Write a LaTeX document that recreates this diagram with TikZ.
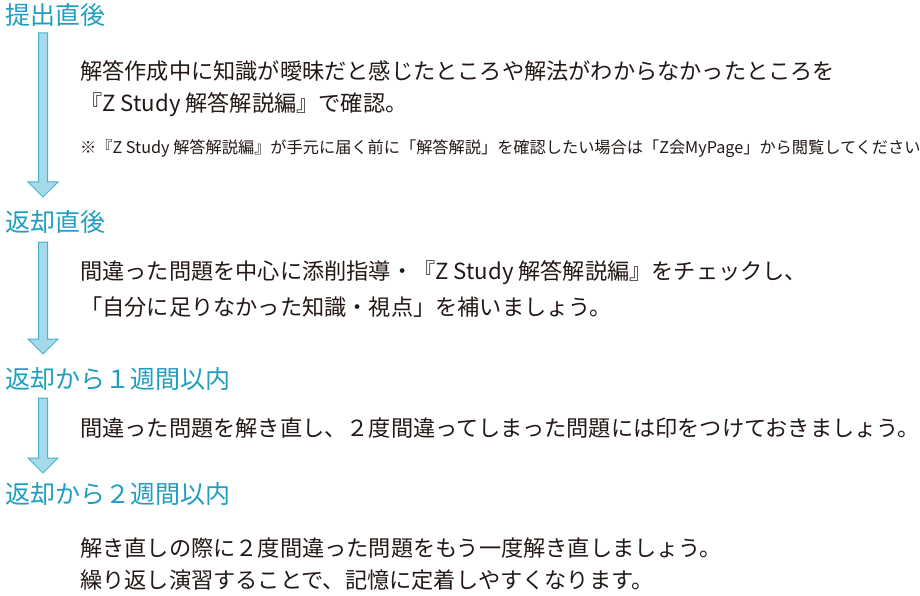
\documentclass[tikz,border=0pt]{standalone}
\usepackage{fontspec}
\newfontfamily\jpfont{Noto Sans CJK JP}
\usetikzlibrary{calc}
\definecolor{headblue}{HTML}{1F9EC1}
\definecolor{arrowfill}{HTML}{A6DAE8}
\definecolor{arrowline}{HTML}{45B3CF}
\definecolor{bodygray}{HTML}{231815}
\tikzset{
  headtext/.style={anchor=base west,inner sep=0pt,text=headblue,font=\jpfont\fontsize{25}{25}\selectfont},
  bodytext/.style={anchor=base west,inner sep=0pt,text=bodygray,font=\jpfont\fontsize{22.2}{23}\selectfont},
  notetext/.style={anchor=base west,inner sep=0pt,text=bodygray,font=\jpfont\fontsize{16.2}{17}\selectfont},
  flowarrow/.style={fill=arrowfill,draw=arrowline,line width=1pt,line join=miter}
}
\newcommand{\downflow}[2]{%
  \draw[flowarrow] let \p1=(#1), \p2=(#2) in
    (\x1-4.5pt,\y1) -- (\x1+4.5pt,\y1) -- (\x1+4.5pt,\y2+15pt) -- (\x1+15pt,\y2+15pt)
    -- (\x2,\y2) -- (\x1-15pt,\y2+15pt) -- (\x1-4.5pt,\y2+15pt) -- cycle;}
\begin{document}
\begin{tikzpicture}[x=1pt,y=-1pt]
    \useasboundingbox (0,0) rectangle (920,596);
    % Headings %
    \node[headtext] (h1) at (5,25) {提出直後};
    \node[headtext] (h2) at (5,231) {返却直後};
    \node[headtext] (h3) at (5,388) {返却から１週間以内};
    \node[headtext] (h4) at (5,503) {返却から２週間以内};

    % Arrows %
    \coordinate (a1top) at (43,33);
    \coordinate (a1tip) at (43,197);
    \coordinate (a2top) at (43,242);
    \coordinate (a2tip) at (43,354);
    \coordinate (a3top) at (43,398);
    \coordinate (a3tip) at (43,473);
    \downflow{a1top}{a1tip}
    \downflow{a2top}{a2tip}
    \downflow{a3top}{a3tip}

    % Texts %
    \node[bodytext] (t1a) at (80,80) {解答作成中に知識が曖昧だと感じたところや解法がわからなかったところを};
    \node[bodytext] (t1b) at (80,112) {『Z Study 解答解説編』で確認。};
    \node[notetext] (t1c) at (80,154) {※『Z Study 解答解説編』が手元に届く前に「解答解説」を確認したい場合は「Z会MyPage」から閲覧してください};
    \node[bodytext] (t2a) at (80,279) {間違った問題を中心に添削指導・『Z Study 解答解説編』をチェックし、};
    \node[bodytext] (t2b) at (80,315) {「自分に足りなかった知識・視点」を補いましょう。};
    \node[bodytext] (t3a) at (80,436) {間違った問題を解き直し、２度間違ってしまった問題には印をつけておきましょう。};
    \node[bodytext] (t4a) at (80,556) {解き直しの際に２度間違った問題をもう一度解き直しましょう。};
    \node[bodytext] (t4b) at (80,588) {繰り返し演習することで、記憶に定着しやすくなります。};
\end{tikzpicture}
\end{document}
